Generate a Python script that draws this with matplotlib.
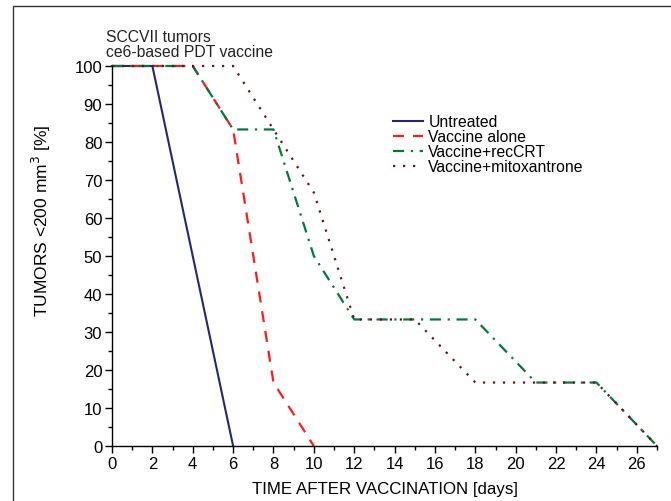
import matplotlib
matplotlib.use("Agg")
import matplotlib.pyplot as plt
from matplotlib.ticker import MultipleLocator
from matplotlib.patches import Rectangle

plt.rcParams['font.family'] = ['Liberation Sans', 'DejaVu Sans']

untreated_x = [0, 2, 6]
untreated_y = [100, 100, 0]
alone_x = [0, 4, 6, 8, 10]
alone_y = [100, 100, 83.3, 16.7, 0]
crt_x = [0, 4, 6, 8, 10, 12, 18, 21, 24, 27]
crt_y = [100, 100, 83.3, 83.3, 50, 33.3, 33.3, 16.7, 16.7, 0]
mito_x = [0, 6, 8, 10, 12, 15, 18, 24, 27]
mito_y = [100, 100, 83.3, 66.7, 33.3, 33.3, 16.7, 16.7, 0]

labels = ["Untreated", "Vaccine alone", "Vaccine+recCRT", "Vaccine+mitoxantrone"]

W, H = 671, 502
fig = plt.figure(figsize=(W/100, H/100), dpi=100)
fig.patches.append(Rectangle((13/W, -0.1), 1.2, 1 - 7/H + 0.1, transform=fig.transFigure,
                             fill=False, edgecolor='#333333', linewidth=1.0))
ax = fig.add_axes([112/W, 1 - 447/H, (657-112)/W, (447-67)/H])

ax.plot(untreated_x, untreated_y, color='#262673', lw=1.5, linestyle='-', label=labels[0])
ax.plot(alone_x, alone_y, color='#ff1a1a', lw=1.6, linestyle=(0, (5, 4)), label=labels[1])
ax.plot(crt_x, crt_y, color='#007a3a', lw=1.6, linestyle=(0, (5, 3, 1, 3)), label=labels[2])
ax.plot(mito_x, mito_y, color='#7a0a10', lw=1.6, linestyle=(0, (1, 3.5)), label=labels[3])

ax.set_xlim(0, 27)
ax.set_ylim(0, 100)
ax.spines['top'].set_visible(False)
ax.spines['right'].set_visible(False)
for sp in ax.spines.values():
    sp.set_linewidth(1.0)
ax.xaxis.set_major_locator(MultipleLocator(2))
ax.xaxis.set_minor_locator(MultipleLocator(1))
ax.yaxis.set_major_locator(MultipleLocator(10))
ax.yaxis.set_minor_locator(MultipleLocator(5))
ax.tick_params(which='major', direction='out', length=5, width=1, labelsize=12, pad=2)
ax.tick_params(which='minor', direction='out', length=3, width=1)
for ln in ax.get_lines():
    ln.set_clip_on(False)

ax.set_xlabel("TIME AFTER VACCINATION [days]", fontsize=12.2)
ax.xaxis.set_label_coords(0.5, (447-482)/380)
ax.set_ylabel("TUMORS <200 mm$^3$ [%]", fontsize=12.5)
ax.yaxis.set_label_coords((53-112)/545, (447-221)/380)

fig.text(106/W, 1 - 30.5/H, "SCCVII tumors\nce6-based PDT vaccine", fontsize=11.3,
         ha='left', va='top', linespacing=0.95, color='#222222')

leg = ax.legend(loc='upper left', bbox_to_anchor=((393-112)/(657-112), (447-115)/(447-67)),
                frameon=False, fontsize=11.3, handlelength=1.9, handletextpad=0.35,
                labelspacing=0.0, borderpad=0, borderaxespad=0)

fig.savefig("out.png", dpi=100)
